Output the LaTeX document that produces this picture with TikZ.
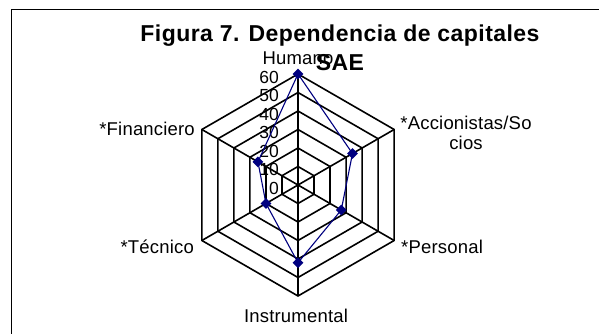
\documentclass[tikz,border=0pt]{standalone}
\usepackage{fontspec}
\setmainfont{Liberation Sans}
\newfontfamily\lblfont[LetterSpace=1]{Liberation Sans}
\newfontfamily\ttlfont[LetterSpace=2]{Liberation Sans}
\usetikzlibrary{shapes.geometric}
\definecolor{navyc}{RGB}{0,0,128}
\tikzset{
  gridline/.style={draw=black, line width=1.6pt, line join=miter},
  spoke/.style={draw=black, line width=1.6pt},
  serie/.style={draw=navyc, line width=1.1pt},
  marker/.style={diamond, fill=navyc, draw=none, minimum width=11pt, minimum height=11pt, inner sep=0pt},
  ticklbl/.style={anchor=east, inner sep=0pt, font=\fontsize{17.5}{20}\selectfont},
  axlbl/.style={inner sep=0pt, font=\lblfont\fontsize{18.5}{20}\selectfont},
  ttl/.style={inner sep=0pt, align=center, font=\ttlfont\bfseries\fontsize{23}{29}\selectfont}
}
\begin{document}
\begin{tikzpicture}[x=1pt,y=1pt]
\useasboundingbox (0,0) rectangle (599,334);
\fill[white] (0,0) rectangle (599,334);
% chart frame (extends beyond the visible area on right and bottom)
\draw[line width=1.6pt] (11.5,-10) -- (11.5,324.5) -- (610,324.5);
\begin{scope}[shift={(298,149)}]
  % grid hexagons
  \foreach \v in {10,20,...,60}{
    \pgfmathsetmacro\r{\v*1.85}
    \draw[gridline] (90:\r) -- (30:\r) -- (-30:\r) -- (-90:\r) -- (-150:\r) -- (150:\r) -- cycle;
  }
  % spokes
  \coordinate (c0) at (0,0);
  \foreach \a in {90,30,-30,-90,-150,150}{
    \draw[spoke] (c0) -- (\a:111);
  }
  % tick labels
  \foreach \v in {0,10,...,60}{
    \node[ticklbl] (t\v) at (-19,{-3+1.85*\v}) {\v};
  }
  % data points
  \coordinate (dH) at (90:{60*1.85});
  \coordinate (dA) at (30:{34*1.85});
  \coordinate (dP) at (-30:{27*1.85});
  \coordinate (dI) at (-90:{42*1.85});
  \coordinate (dT) at (-150:{20*1.85});
  \coordinate (dF) at (150:{25*1.85});
  \draw[serie] (dH) -- (dA) -- (dP) -- (dI) -- (dT) -- (dF) -- cycle;
  \foreach \d in {dH,dA,dP,dI,dT,dF}{
    \node[marker] (m\d) at (\d) {};
  }
\end{scope}
% axis labels
\node[axlbl, anchor=base] (lH) at (298,269) {Humano};
\node[axlbl, anchor=base, align=center] (lA) at (466,184) {*Accionistas/So\\cios};
\node[axlbl, anchor=base west] (lP) at (401,80) {*Personal};
\node[axlbl, anchor=base] (lI) at (296,11) {Instrumental};
\node[axlbl, anchor=base east] (lT) at (194,80) {*Técnico};
\node[axlbl, anchor=base east] (lF) at (195,198) {*Financiero};
% title
\node[ttl, anchor=base] (title) at (340,263) {Figura 7. Dependencia de capitales\\SAE};
\end{tikzpicture}
\end{document}
